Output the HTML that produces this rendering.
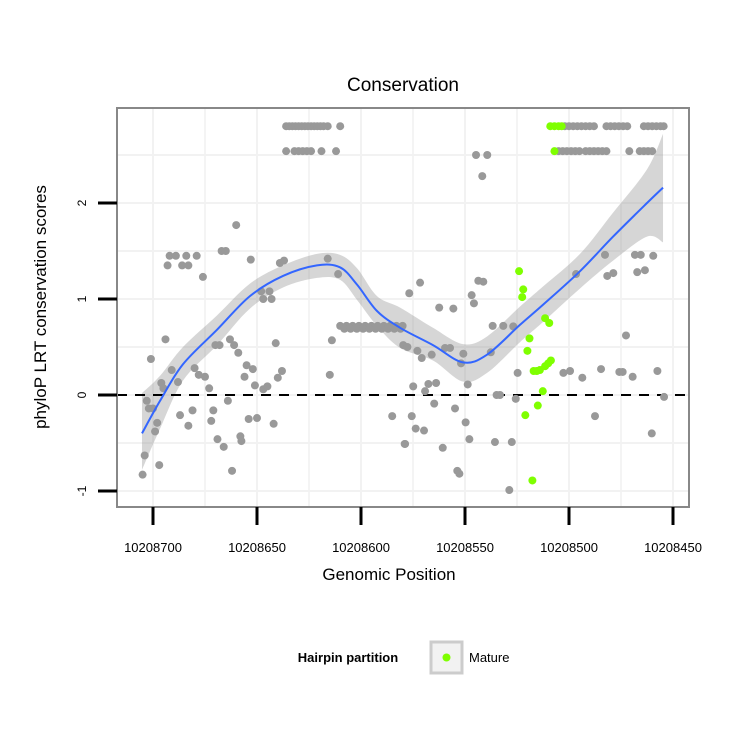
<!DOCTYPE html>
<html><head><meta charset="utf-8"><style>
html,body{margin:0;padding:0;background:#fff;}
svg{display:block;font-family:"Liberation Sans",Arial,sans-serif;}
</style></head><body>
<svg id="chart" width="750" height="750" viewBox="0 0 750 750"></svg>
<script>
const xTicks=[10208700,10208650,10208600,10208550,10208500,10208450];
const yTicks=[-1,0,1,2];
const grayPos=[10208705,10208704,10208697,10208703,10208702,10208700,10208698,10208699,10208701,10208694,10208696,10208695,10208691,10208688,10208687,10208683,10208681,10208680,10208678,10208675,10208673,10208671,10208672,10208669,10208666,10208662,10208664,10208658,10208657.5,10208654,10208650,10208656,10208655,10208652,10208651,10208647,10208645,10208642,10208640,10208638,10208641,10208670,10208668,10208663,10208661,10208659,10208693,10208692,10208689,10208686,10208683,10208684,10208679,10208676,10208667,10208665,10208660,10208653,10208648,10208644,10208647,10208643,10208639,10208637,10208616,10208611,10208614,10208615,10208585,10208579,
10208544.7,10208539.3,10208541.7,10208571.6,10208576.8,10208562.4,10208555.6,10208543.6,10208541.2,10208546.8,10208545.7,10208579.7,10208577.7,10208572.9,10208570.8,10208566,10208559.6,10208557.2,10208550.8,10208551.9,10208548.7,10208537.6,10208536.7,10208531.6,10208526.8,10208574.9,10208567.6,10208563.9,10208569.2,10208534.8,10208533.2,10208525.6,10208564.8,10208554.8,10208575.6,10208549.7,10208573.7,10208569.7,10208578.8,10208560.7,10208547.9,10208535.6,10208527.5,10208553.7,10208552.7,10208528.7,10208524.7,10208482.7,10208468.3,10208465.5,10208459.5,10208496.6,10208481.6,10208478.7,10208467.2,10208463.5,10208472.6,10208502.7,10208499.5,10208493.6,10208484.6,10208475.8,10208474.2,10208469.4,10208457.5,10208454.3,10208487.5,10208460.2];
const grayScore=[-0.83,-0.63,-0.73,-0.06,-0.14,-0.14,-0.29,-0.38,0.375,0.58,0.125,0.07,0.26,0.135,-0.21,-0.32,-0.16,0.28,0.21,0.19,0.07,-0.16,-0.27,-0.46,-0.54,-0.79,-0.06,-0.43,-0.48,-0.25,-0.24,0.19,0.31,0.27,0.10,0.06,0.09,-0.30,0.18,0.25,0.54,0.52,0.52,0.58,0.52,0.44,1.35,1.45,1.45,1.35,1.35,1.45,1.45,1.23,1.50,1.50,1.77,1.41,1.08,1.08,1.0,1.0,1.375,1.40,1.42,1.26,0.57,0.21,-0.22,-0.51,
2.50,2.50,2.28,1.17,1.06,0.91,0.90,1.19,1.18,1.04,0.955,0.52,0.50,0.46,0.385,0.42,0.49,0.49,0.43,0.33,0.11,0.445,0.72,0.72,0.715,0.09,0.115,0.125,0.04,0.0,0.0,-0.04,-0.09,-0.14,-0.22,-0.285,-0.35,-0.37,-0.51,-0.55,-0.46,-0.49,-0.49,-0.79,-0.82,-0.99,0.23,1.46,1.46,1.46,1.45,1.26,1.24,1.27,1.28,1.30,0.62,0.23,0.25,0.18,0.27,0.24,0.24,0.19,0.25,-0.02,-0.22,-0.40];
// dense rows of identical scores
const rowTopPos=[10208636,10208634.5,10208633,10208631.5,10208630,10208628.5,10208627,10208625.5,10208624,10208622.5,10208621,10208619.5,10208618,10208616,10208610,10208502,10208500,10208498,10208496,10208494,10208492,10208490,10208488,10208482,10208480,10208478,10208476,10208474,10208472,10208464,10208462,10208460,10208458,10208456,10208454.5];
const rowTopScore=2.80;
const rowMidPos=[10208636,10208632,10208630,10208628,10208626,10208624,10208619,10208612,10208505,10208503,10208501,10208499,10208497,10208495,10208492,10208490,10208488,10208486,10208484,10208482,10208471,10208466,10208464,10208462,10208460];
const rowMidScore=2.54;
const rowLowPos=[10208610,10208607,10208604,10208601,10208598,10208595,10208592,10208589,10208586,10208583,10208580,10208608,10208605,10208602,10208599,10208596,10208593,10208590,10208587,10208584,10208581];
const rowLowScore=[0.72,0.72,0.72,0.72,0.72,0.72,0.72,0.72,0.72,0.72,0.72,0.69,0.69,0.69,0.69,0.69,0.69,0.69,0.69,0.69,0.69];
const greenPos=[10208524,10208522,10208522.5,10208511.5,10208509.5,10208519,10208520,10208517,10208515.5,10208514,10208511.5,10208510,10208508.7,10208512.6,10208515,10208521,10208517.6,10208509,10208507,10208505,10208503.5,10208507];
const greenScore=[1.29,1.10,1.02,0.80,0.75,0.59,0.46,0.25,0.25,0.26,0.30,0.33,0.36,0.04,-0.11,-0.21,-0.89,2.80,2.80,2.80,2.80,2.54];
const fitPos=[10208705.3,10208696.6,10208685.6,10208669.2,10208653.4,10208637.5,10208621.2,10208610.1,10208601.9,10208592.3,10208581.2,10208565.4,10208551,10208539.4,10208523.6,10208512.5,10208494.7,10208478.8,10208462.5,10208454.8];
const fitVal=[-0.40,-0.06,0.32,0.68,1.03,1.24,1.35,1.33,1.15,0.875,0.70,0.52,0.34,0.42,0.73,0.94,1.29,1.65,2.0,2.16];
const fitLo=[-0.78,-0.35,0.15,0.52,0.90,1.12,1.22,1.20,0.99,0.72,0.49,0.36,0.14,0.23,0.55,0.76,1.11,1.40,1.65,1.59];
const fitHi=[0.02,0.20,0.50,0.83,1.16,1.35,1.47,1.46,1.32,1.03,0.91,0.70,0.53,0.61,0.92,1.13,1.47,1.90,2.35,2.72];

const P={l:117,r:689,t:108,b:507};
const xs=v=>153+(10208700-v)*2.08;
const ys=v=>395-v*96;
const NS='http://www.w3.org/2000/svg';
const svg=document.getElementById('chart');
function mk(tag,attrs,parent){const e=document.createElementNS(NS,tag);for(const k in attrs)e.setAttribute(k,attrs[k]);(parent||svg).appendChild(e);return e;}

// grid
const grid=mk('g',{});


for(let i=0;i<xTicks.length;i++){
  const x=xs(xTicks[i]);
  mk('line',{x1:x,x2:x,y1:P.t,y2:P.b,stroke:'#f2f2f2','stroke-width':2},grid);
  const xm=xs(xTicks[i]-25);
  if(xm<P.r) mk('line',{x1:xm,x2:xm,y1:P.t,y2:P.b,stroke:'#f4f4f4','stroke-width':2},grid);
}
for(let v=-1;v<=2.5;v+=0.5){const y=ys(v);mk('line',{x1:P.l,x2:P.r,y1:y,y2:y,stroke:'#f2f2f2','stroke-width':2},grid);}

// band
function pathFrom(pts){
  let d='M'+pts[0][0]+','+pts[0][1];
  for(let i=0;i<pts.length-1;i++){
    const p0=pts[Math.max(0,i-1)],p1=pts[i],p2=pts[i+1],p3=pts[Math.min(pts.length-1,i+2)];
    const c1=[p1[0]+(p2[0]-p0[0])/6,p1[1]+(p2[1]-p0[1])/6];
    const c2=[p2[0]-(p3[0]-p1[0])/6,p2[1]-(p3[1]-p1[1])/6];
    d+=' C'+c1[0]+','+c1[1]+' '+c2[0]+','+c2[1]+' '+p2[0]+','+p2[1];
  }
  return d;
}
const hiPts=fitPos.map((p,i)=>[xs(p),ys(fitHi[i])]);
const loPts=fitPos.map((p,i)=>[xs(p),ys(fitLo[i])]).reverse();
const band=mk('path',{d:pathFrom(hiPts)+' L'+loPts[0][0]+','+loPts[0][1]+pathFrom(loPts).replace(/^M[^ ]+/,'')+' Z',fill:'#999','fill-opacity':0.4});



// zero line
const zl=mk('line',{x1:P.l,x2:P.r,y1:ys(0),y2:ys(0),stroke:'#000','stroke-width':2,'stroke-dasharray':'10,8'});



// points
const pts=mk('g',{fill:'#999'});


function dot(g,x,y){const c=mk('circle',{cx:xs(x),cy:ys(y),r:4},g);}
grayPos.forEach((p,i)=>dot(pts,p,grayScore[i]));
rowTopPos.forEach(p=>dot(pts,p,rowTopScore));
rowMidPos.forEach(p=>dot(pts,p,rowMidScore));
rowLowPos.forEach((p,i)=>dot(pts,p,rowLowScore[i]));
const gpts=mk('g',{fill:'#7fff00'});


greenPos.forEach((p,i)=>dot(gpts,p,greenScore[i]));

// fit line
const fl=mk('path',{d:pathFrom(fitPos.map((p,i)=>[xs(p),ys(fitVal[i])])),fill:'none',stroke:'#3366ff','stroke-width':2});



// panel border
const pb=mk('rect',{x:P.l,y:P.t,width:P.r-P.l,height:P.b-P.t,fill:'none',stroke:'#888','stroke-width':2});



// axes
const ya=mk('g',{});


yTicks.forEach(v=>{
  const y=ys(v);
  mk('line',{x1:98,x2:117,y1:y,y2:y,stroke:'#000','stroke-width':3},ya);
  const t=mk('text',{x:0,y:0,transform:'translate(86,'+y+') rotate(-90)','text-anchor':'middle','font-size':12,fill:'#000'},ya);
  t.textContent=String(v);
  
  
});
const xa=mk('g',{});


xTicks.forEach(v=>{
  const x=xs(v);
  mk('line',{x1:x,x2:x,y1:507,y2:525,stroke:'#000','stroke-width':3},xa);
  const t=mk('text',{x:x,y:552,'text-anchor':'middle','font-size':13,fill:'#000'},xa);
  t.textContent=String(v);
  
  
});
</script>
<svg style="position:absolute;left:0;top:0" width="750" height="750">
<text x="403" y="91" text-anchor="middle" font-size="19" font-family="Liberation Sans, sans-serif">Conservation</text>
<text x="389" y="580" text-anchor="middle" font-size="17" font-family="Liberation Sans, sans-serif">Genomic Position</text>
<text transform="translate(46,307) rotate(-90)" text-anchor="middle" font-size="17" font-family="Liberation Sans, sans-serif">phyloP LRT conservation scores</text>
<g>
<text x="348" y="662" text-anchor="middle" font-size="13" font-weight="bold" font-family="Liberation Sans, sans-serif">Hairpin partition</text>
<rect x="431" y="642" width="31" height="31" fill="#f2f2f2" stroke="#ccc" stroke-width="3"/>
<circle cx="446.5" cy="657.5" r="4" fill="#7fff00"/>
<text x="469" y="662" font-size="13" font-family="Liberation Sans, sans-serif">Mature</text>
</g>
</svg>
</body></html>
